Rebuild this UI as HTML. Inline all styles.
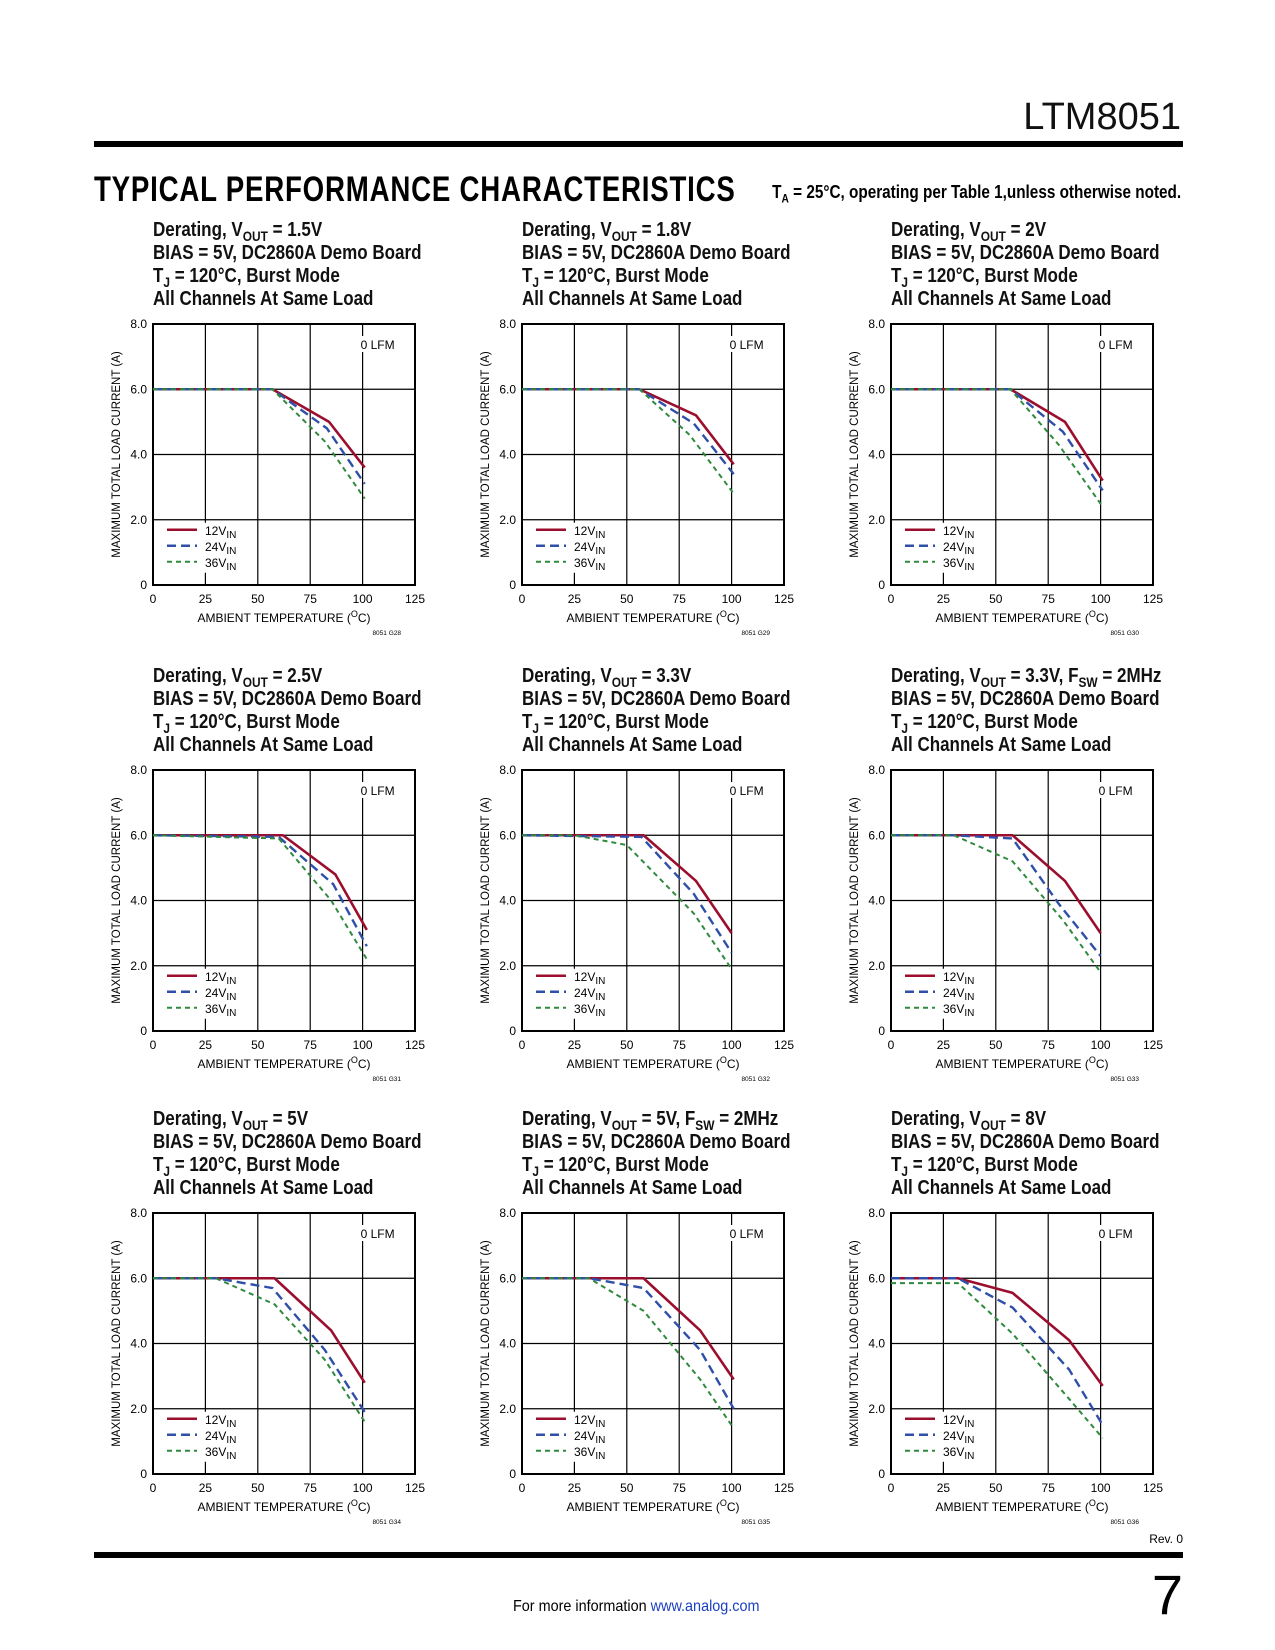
<!DOCTYPE html>
<html><head><meta charset="utf-8"><style>
body{margin:0;background:#fff}
#page{position:relative;width:1275px;height:1650px;overflow:hidden;font-family:"Liberation Sans",sans-serif}
.t{position:absolute;font-weight:bold;font-size:20px;transform:scaleX(0.85);transform-origin:left top;white-space:nowrap;line-height:23px;color:#111}
</style></head><body>
<div id="page">
<div style="position:absolute;right:94px;top:96px;font-size:38px;color:#111">LTM8051</div>
<div style="position:absolute;left:94px;top:141px;width:1089px;height:6px;background:#000"></div>
<div style="position:absolute;left:94px;top:170px;font-size:35px;font-weight:900;transform:scaleX(0.79);transform-origin:left top;letter-spacing:1px;white-space:nowrap">TYPICAL PERFORMANCE CHARACTERISTICS</div>
<div style="position:absolute;right:94px;top:182px;font-size:18px;font-weight:bold;transform:scaleX(0.85);transform-origin:right top;white-space:nowrap">T<sub style="font-size:12px">A</sub> = 25°C, operating per Table 1,unless otherwise noted.</div>
<svg id="svg" width="1275" height="1650" style="position:absolute;left:0;top:0" font-family="Liberation Sans, sans-serif"></svg>
<div style="position:absolute;left:94px;top:1552px;width:1089px;height:6px;background:#000"></div>
<div style="position:absolute;right:92px;top:1532px;font-size:12px">Rev. 0</div>
<div style="position:absolute;right:92px;top:1562px;font-size:56px">7</div>
<div style="position:absolute;left:513px;top:1598px;font-size:16px;transform:scaleX(0.9);transform-origin:left top">For more information <span style="color:#1a3fbf">www.analog.com</span></div>
</div>
<script>
const titles=[["Derating, V<OUT> = 1.5V"],["Derating, V<OUT> = 1.8V"],["Derating, V<OUT> = 2V"],["Derating, V<OUT> = 2.5V"],["Derating, V<OUT> = 3.3V"],["Derating, V<OUT> = 3.3V, F<SW> = 2MHz"],["Derating, V<OUT> = 5V"],["Derating, V<OUT> = 5V, F<SW> = 2MHz"],["Derating, V<OUT> = 8V"]];
const codes=["8051 G28","8051 G29","8051 G30","8051 G31","8051 G32","8051 G33","8051 G34","8051 G35","8051 G36"];
const xTicks=[0,25,50,75,100,125];
const yTicks=[0,2,4,6,8];
const yTickLabels=["0","2.0","4.0","6.0","8.0"];
const s12=[
[[0,6],[57,6],[84,5],[101,3.6]],
[[0,6],[56,6],[83,5.2],[101,3.7]],
[[0,6],[57,6],[83,5],[101,3.2]],
[[0,6],[62,6],[87,4.8],[102,3.1]],
[[0,6],[58,6],[83,4.6],[100,3.0]],
[[0,6],[58,6],[83,4.6],[100,3.0]],
[[0,6],[58,6],[85,4.4],[101,2.8]],
[[0,6],[58,6],[85,4.4],[101,2.9]],
[[0,6],[32,6],[58,5.55],[85,4.1],[101,2.7]]];
const s24=[
[[0,6],[57,6],[83,4.8],[101,3.1]],
[[0,6],[56,6],[82,4.95],[101,3.4]],
[[0,6],[57,6],[82,4.7],[101,2.9]],
[[0,6],[60,5.95],[86,4.5],[102,2.6]],
[[0,6],[57,5.95],[82,4.2],[100,2.4]],
[[0,6],[30,6],[58,5.9],[80,3.9],[100,2.3]],
[[0,6],[30,6],[57,5.7],[82,3.8],[101,1.9]],
[[0,6],[32,6],[58,5.7],[85,3.8],[101,2.0]],
[[0,6],[32,6],[58,5.1],[85,3.2],[101,1.5]]];
const s36=[
[[0,6],[57,6],[82,4.4],[101,2.65]],
[[0,6],[56,6],[80,4.6],[101,2.8]],
[[0,6],[57,6],[80,4.3],[101,2.4]],
[[0,6],[60,5.9],[85,4.0],[102,2.2]],
[[0,6],[25,6],[50,5.7],[82,3.6],[100,1.9]],
[[0,6],[30,6],[58,5.2],[82,3.4],[100,1.8]],
[[0,6],[30,6],[58,5.2],[82,3.5],[101,1.6]],
[[0,6],[32,6],[58,5.0],[85,2.9],[101,1.4]],
[[0,5.85],[32,5.85],[58,4.3],[85,2.3],[101,1.1]]];
const series=[{d:s12,c:"#9b0e2e",w:2.6,dash:"",lab:"12V"},{d:s24,c:"#2f4fa8",w:2.4,dash:"9,5",lab:"24V"},{d:s36,c:"#2f8a3e",w:2,dash:"5,4",lab:"36V"}];
const svg=document.getElementById('svg');const NS="http://www.w3.org/2000/svg";
function mk(t,a,p){const e=document.createElementNS(NS,t);for(const k in a)e.setAttribute(k,a[k]);(p||svg).appendChild(e);return e;}
const colX=[153,522,891],rowY=[324,770,1213],W=262,H=261;
const page=document.getElementById('page');
for(let i=0;i<9;i++){
 const L=colX[i%3],T=rowY[Math.floor(i/3)];
 const xs=v=>L+v/125*W, ys=v=>T+H-v/8*H;
 const g=mk('g',{});
 
 
 const lines=[titles[i][0].replace(/<(\w+)>/g,'<sub style="font-size:14px">$1</sub>'),"BIAS = 5V, DC2860A Demo Board","T<sub style=\"font-size:14px\">J</sub> = 120°C, Burst Mode","All Channels At Same Load"];
 lines.forEach((l,k)=>{const d=document.createElement('div');d.className='t';d.style.left=L+'px';d.style.top=(T-105+k*23)+'px';d.innerHTML=l;
 
 
 page.appendChild(d);});
 xTicks.forEach(v=>{mk('line',{x1:xs(v),x2:xs(v),y1:T,y2:T+H,stroke:'#000','stroke-width':1.2},g);
  const t=mk('text',{x:xs(v),y:T+H+18,'font-size':12,'text-anchor':'middle'},g);t.textContent=v;});
 yTicks.forEach((v,k)=>{mk('line',{x1:L,x2:L+W,y1:ys(v),y2:ys(v),stroke:'#000','stroke-width':1.2},g);
  const t=mk('text',{x:L-6,y:ys(v)+4,'font-size':12,'text-anchor':'end'},g);t.textContent=yTickLabels[k];});
 mk('rect',{x:L,y:T,width:W,height:H,fill:'none',stroke:'#000','stroke-width':2},g);
 mk('rect',{x:xs(100)-4,y:T+12,width:42,height:16,fill:'#fff'},g);
 const lf=mk('text',{x:xs(100)-2,y:T+25,'font-size':12},g);lf.textContent='0 LFM';
 mk('rect',{x:L+8,y:ys(2)+3,width:90,height:50,fill:'#fff'},g);
 series.forEach((s,k)=>{
  const p=mk('polyline',{points:s.d[i].map(q=>xs(q[0])+','+ys(q[1])).join(' '),fill:'none',stroke:s.c,'stroke-width':s.w,'stroke-dasharray':s.dash,'stroke-linejoin':'round'},g);
  
  
  const ly=ys(2)+14+k*16;
  mk('line',{x1:L+14,x2:L+44,y1:ly-4,y2:ly-4,stroke:s.c,'stroke-width':s.w,'stroke-dasharray':s.dash},g);
  const t=mk('text',{x:L+52,y:ly+1,'font-size':12},g);t.innerHTML=s.lab+'<tspan font-size="10" dy="3">IN</tspan>';
 });
 const yl=mk('text',{x:0,y:0,'font-size':11.5,'text-anchor':'middle',transform:`translate(${L-33},${T+H/2}) rotate(-90)`},g);yl.textContent='MAXIMUM TOTAL LOAD CURRENT (A)';
 const xl=mk('text',{x:L+W/2,y:T+H+37,'font-size':12,'text-anchor':'middle'},g);xl.innerHTML='AMBIENT TEMPERATURE (<tspan font-size="9" dy="-5">O</tspan><tspan dy="5">C)</tspan>';
 const cd=mk('text',{x:L+W-14,y:T+H+50,'font-size':6.5,'text-anchor':'end'},g);cd.textContent=codes[i];
}
</script>
</body></html>
